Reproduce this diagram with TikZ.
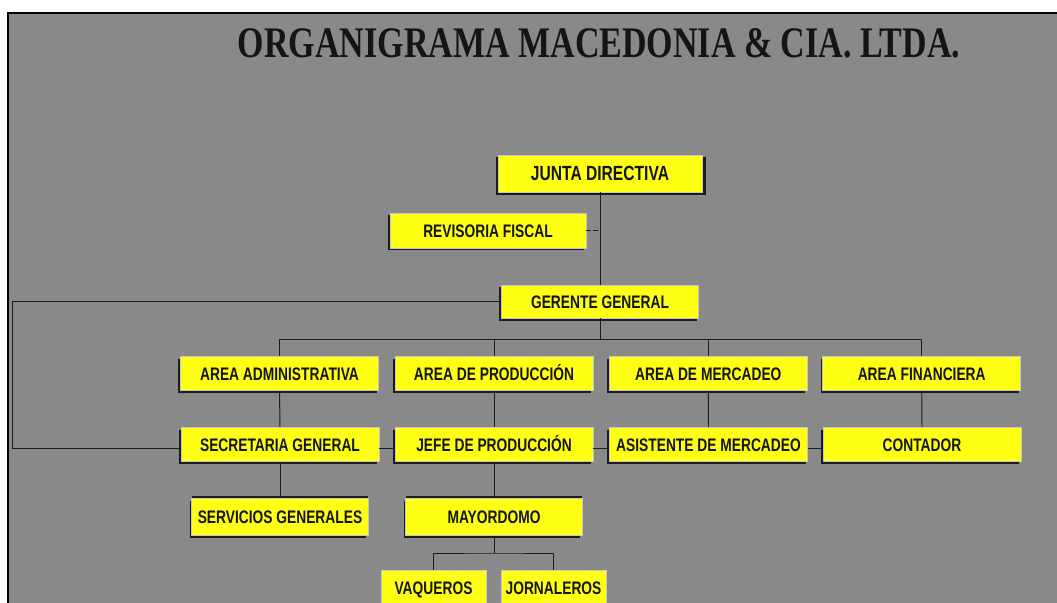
\documentclass[tikz,border=0pt]{standalone}
\usepackage{fontspec}
\usetikzlibrary{shadows}
\newfontfamily\titlefont[FakeStretch=0.78]{Liberation Serif}
\newfontfamily\boxfont[FakeStretch=0.76]{Liberation Sans}
\definecolor{fondo}{RGB}{137,137,137}
\definecolor{amarillo}{RGB}{255,255,20}
\definecolor{linea}{RGB}{28,28,28}

\begin{document}
\begin{tikzpicture}[
    x=0.025cm, y=-0.025cm,
    caja/.style={
        rectangle,
        fill=amarillo,
        draw=gray!45,
        line width=0.4pt,
        inner sep=0pt,
        minimum width=4.95cm,
        minimum height=0.85cm,
        text height=9.3pt,
        text depth=0pt,
        text=black!92,
        font=\boxfont\bfseries\fontsize{12.9}{14}\selectfont,
        drop shadow={shadow xshift=-0.05cm, shadow yshift=-0.06cm, fill=linea, opacity=1}
    },
    cajaabajo/.style={
        caja,
        minimum width=4.42cm,
        minimum height=0.93cm,
        drop shadow={shadow xshift=0cm, shadow yshift=0.07cm, fill=linea, opacity=1}
    },
    cajapeq/.style={
        rectangle,
        fill=amarillo,
        draw=gray!45,
        line width=0.4pt,
        inner sep=0pt,
        minimum width=2.62cm,
        minimum height=0.9cm,
        text height=9.3pt,
        text depth=0pt,
        text=black!92,
        font=\boxfont\bfseries\fontsize{12.9}{14}\selectfont
    },
    conector/.style={draw=linea, line width=0.7pt}
]
\useasboundingbox (0,0) rectangle (1057,603);
\clip (0,0) rectangle (1057,603);
\fill[white] (0,0) rectangle (1057,603);
\fill[fondo] (8,13) rectangle (1070,615);
\draw[black, line width=0.9pt] (8,615) -- (8,13) -- (1070,13);

\node[anchor=base, font=\titlefont\bfseries\fontsize{31}{31}\selectfont, text=black!92] (titulo) at (599,58) {ORGANIGRAMA MACEDONIA \& CIA. LTDA.};

\node[caja, minimum width=5.1cm, minimum height=0.925cm, text height=10.4pt, font=\boxfont\bfseries\fontsize{14.6}{16}\selectfont,
    drop shadow={shadow xshift=0.03cm, shadow yshift=-0.06cm, shadow scale=1.03, fill=linea, opacity=1}] (junta) at (600,173.5) {JUNTA DIRECTIVA};
\node[caja, minimum width=4.9cm, minimum height=0.87cm] (revisoria) at (488,230.5) {REVISORIA FISCAL};
\node[caja, minimum width=4.93cm, minimum height=0.83cm] (gerente) at (600,301.5) {GERENTE GENERAL};

\node[caja] (adm) at (279.5,373.5) {AREA ADMINISTRATIVA};
\node[caja] (prod) at (494,373.5) {AREA DE PRODUCCIÓN};
\node[caja] (merc) at (708.3,373.5) {AREA DE MERCADEO};
\node[caja] (fin) at (921.7,373.5) {AREA FINANCIERA};

\node[caja] (secre) at (280,444.5) {SECRETARIA GENERAL};
\node[caja] (jefe) at (494,444.5) {JEFE DE PRODUCCIÓN};
\node[caja] (asis) at (708.5,444.5) {ASISTENTE DE MERCADEO};
\node[caja] (cont) at (922,444.5) {CONTADOR};

\node[cajaabajo] (serv) at (280,517) {SERVICIOS GENERALES};
\node[cajaabajo] (mayor) at (494,517) {MAYORDOMO};

\node[cajapeq] (vaq) at (433.5,588) {VAQUEROS};
\node[cajapeq] (jor) at (553.5,588) {JORNALEROS};

\coordinate (bus) at (600,339.5);
\coordinate (izq) at (12,448);
\coordinate (mbus) at (494,553);

\draw[conector] (junta.south) -- (gerente.north);
\draw[conector, densely dashed] (revisoria.east) -- (revisoria.east -| junta.south);
\draw[conector] (gerente.south) -- (bus);
\draw[conector] (adm.north) |- (bus) -| (fin.north);
\draw[conector] (prod.north) -- (prod.north |- bus);
\draw[conector] (merc.north) -- (merc.north |- bus);

\draw[conector] (gerente.west) -| (izq) -- (secre.west |- izq);
\draw[conector] (secre.east |- izq) -- (jefe.west |- izq);
\draw[conector] (jefe.east |- izq) -- (asis.west |- izq);
\draw[conector] (asis.east |- izq) -- (cont.west |- izq);

\draw[conector] (adm.south) -- (secre.north);
\draw[conector] (prod.south) -- (jefe.north);
\draw[conector] (merc.south) -- (asis.north);
\draw[conector] (fin.south) -- (cont.north);

\draw[conector] (secre.south) -- (serv.north);
\draw[conector] (jefe.south) -- (mayor.north);
\draw[conector] (mayor.south) -- (mbus);
\draw[conector] (vaq.north) |- (mbus) -| (jor.north);

\end{tikzpicture}
\end{document}
